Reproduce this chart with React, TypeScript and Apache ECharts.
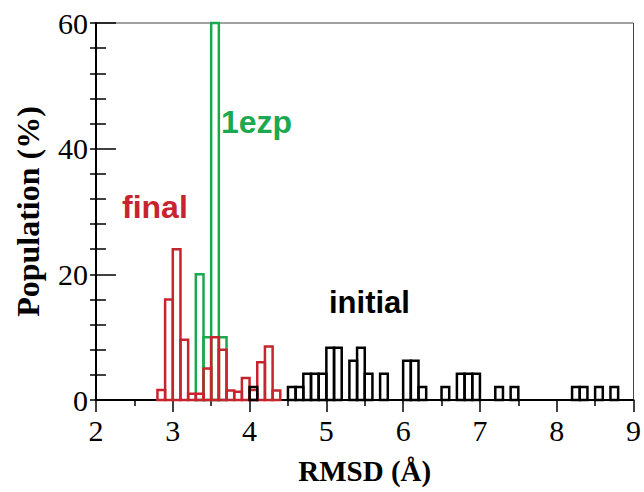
import React, { useEffect, useRef } from "react";
import * as echarts from "echarts";

// Histogram bins (bin start, width 0.1 Å) and population (%)
const BIN_WIDTH = 0.1;

const finalStarts = [2.8, 2.9, 3.0, 3.1, 3.2, 3.3, 3.4, 3.5, 3.6, 3.7, 3.8, 3.9, 4.0, 4.1, 4.2, 4.3];
const finalPct = [1.6, 16, 24, 9.6, 1.0, 1.0, 5.0, 10.0, 8.0, 1.5, 1.3, 3.5, 1.6, 6.0, 8.5, 1.5];

const ezpStarts = [3.3, 3.4, 3.5, 3.6];
const ezpPct = [20, 10, 60, 10];

const initialStarts = [4.0, 4.5, 4.6, 4.7, 4.8, 4.9, 5.0, 5.1, 5.3, 5.4, 5.5, 5.7, 6.0, 6.1, 6.2, 6.5, 6.7, 6.8, 6.9, 7.2, 7.4, 8.2, 8.3, 8.5, 8.7];
const initialPct = [2.08, 2.08, 2.08, 4.17, 4.17, 4.17, 8.33, 8.33, 6.25, 8.33, 4.17, 4.17, 6.25, 6.25, 2.08, 2.08, 4.17, 4.17, 4.17, 2.08, 2.08, 2.08, 2.08, 2.08, 2.08];

const xTicks = { min: 2, max: 9, interval: 1 };
const yTicks = { min: 0, max: 60, interval: 20 };

const RED = "#c8242f";
const GREEN = "#1ca84e";
const BLACK = "#000000";

function toData(starts: number[], vals: number[]) {
  return starts.map((s, i) => [s, +(s + BIN_WIDTH).toFixed(2), vals[i]]);
}

function histSeries(name: string, starts: number[], vals: number[], color: string, z: number) {
  return {
    name,
    type: "custom",
    z,
    data: toData(starts, vals),
    encode: { x: [0, 1], y: 2 },
    renderItem: (params: any, api: any) => {
      const p0 = api.coord([api.value(0), 0]);
      const p1 = api.coord([api.value(1), api.value(2)]);
      return {
        type: "rect",
        shape: { x: p0[0], y: p1[1], width: p1[0] - p0[0], height: p0[1] - p1[1] },
        style: { fill: "none", stroke: color, lineWidth: 2.5 },
      };
    },
  };
}

export default function App() {
  const ref = useRef<HTMLDivElement>(null);
  useEffect(() => {
    const chart = echarts.init(ref.current!, null, { renderer: "svg" });
    const serif = "Liberation Serif, Times New Roman, serif";
    const sans = "Liberation Sans, Arial, sans-serif";
    chart.setOption({
      animation: false,
      backgroundColor: "#ffffff",
      grid: { left: 96, right: 10, top: 23, bottom: 92, show: true, borderColor: "#444", borderWidth: 1 },
      xAxis: {
        type: "value",
        min: xTicks.min,
        max: xTicks.max,
        interval: xTicks.interval,
        name: "RMSD (Å)",
        nameLocation: "middle",
        nameGap: 56,
        nameTextStyle: { fontFamily: serif, fontSize: 29, fontWeight: "bold", color: "#000" },
        axisLine: { show: true, onZero: false, lineStyle: { color: "#000", width: 2 } },
        axisTick: { show: true, inside: false, length: 12, lineStyle: { color: "#000", width: 1.5 } },
        minorTick: { show: true, splitNumber: 2, length: 6, lineStyle: { color: "#000", width: 1.5 } },
        axisLabel: { fontFamily: serif, fontSize: 30, color: "#000", margin: 15 },
        splitLine: { show: false },
      },
      yAxis: [
        {
          type: "value",
          min: yTicks.min,
          max: yTicks.max,
          interval: yTicks.interval,
          name: "Population (%)",
          nameLocation: "middle",
          nameGap: 52,
          nameTextStyle: { fontFamily: serif, fontSize: 32, fontWeight: "bold", color: "#000" },
          axisLine: { show: true, lineStyle: { color: "#000", width: 2 } },
          axisTick: { show: true, inside: true, length: 20, lineStyle: { color: "#000", width: 1.5 } },
          minorTick: { show: true, splitNumber: 5, length: 10, lineStyle: { color: "#000", width: 1.5 } },
          axisLabel: { fontFamily: serif, fontSize: 30, color: "#000", margin: 8 },
          splitLine: { show: false },
        },
        {
          type: "value",
          position: "left",
          min: yTicks.min,
          max: yTicks.max,
          interval: yTicks.interval,
          axisLine: { show: false },
          axisTick: { show: true, inside: false, length: 6, lineStyle: { color: "#000", width: 1.5 } },
          minorTick: { show: true, splitNumber: 5, length: 6, lineStyle: { color: "#000", width: 1.5 } },
          axisLabel: { show: false },
          splitLine: { show: false },
        },
      ],
      graphic: [
        { type: "text", left: 122, top: 191, style: { text: "final", fill: RED, font: `bold 32px ${sans}` } },
        { type: "text", left: 221, top: 106, style: { text: "1ezp", fill: GREEN, font: `bold 32px ${sans}` } },
        { type: "text", left: 329, top: 287, style: { text: "initial", fill: BLACK, font: `bold 31px ${sans}` } },
      ],
      series: [
        histSeries("1ezp", ezpStarts, ezpPct, GREEN, 2),
        histSeries("final", finalStarts, finalPct, RED, 3),
        histSeries("initial", initialStarts, initialPct, BLACK, 4),
      ],
    });
    return () => chart.dispose();
  }, []);
  return (
    <div
      ref={ref}
      style={{ position: "fixed", left: 0, top: 0, width: 644, height: 492, background: "#fff" }}
    />
  );
}
